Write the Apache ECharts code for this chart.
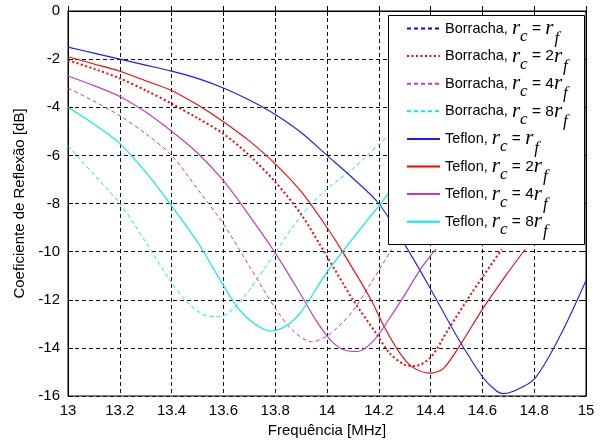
<!DOCTYPE html>
<html>
<head>
<meta charset="utf-8">
<script src="https://cdn.jsdelivr.net/npm/echarts@6/dist/echarts.min.js"></script>
<style>html,body{margin:0;padding:0;background:#fff}#c{width:606px;height:443px}</style>
</head>
<body>
<div id="c"></div>
<script>
// Frequency axis ticks (MHz) and dB axis ticks
const xTicks = [13, 13.2, 13.4, 13.6, 13.8, 14, 14.2, 14.4, 14.6, 14.8, 15];
const yTicks = [0, -2, -4, -6, -8, -10, -12, -14, -16];

// Series: [frequency MHz, reflection dB]
const borrachaRf = []; // not visible in the plotted range
const borracha2Rf = [[13.0,-2.05],[13.1,-2.4],[13.2,-2.8],[13.3,-3.3],[13.4,-3.85],[13.5,-4.45],[13.6,-5.1],[13.7,-6.0],[13.8,-7.1],[13.9,-8.45],[14.0,-10.2],[14.1,-12.0],[14.19,-13.4],[14.24,-14.2],[14.3,-14.7],[14.34,-14.75],[14.4,-14.4],[14.47,-13.2],[14.56,-11.7],[14.675,-9.9]];
const borracha4Rf = [[13.0,-3.2],[13.1,-3.75],[13.2,-4.35],[13.3,-5.1],[13.4,-6.0],[13.5,-7.4],[13.6,-8.85],[13.7,-10.6],[13.8,-12.35],[13.87,-13.3],[13.94,-13.75],[14.0,-13.5],[14.05,-13.05],[14.1,-12.45],[14.17,-11.3],[14.25,-9.9]];
const borracha8Rf = [[13.0,-5.6],[13.1,-6.8],[13.2,-8.0],[13.3,-9.6],[13.4,-11.3],[13.46,-12.1],[13.52,-12.6],[13.57,-12.7],[13.62,-12.55],[13.7,-11.6],[13.8,-10.05],[13.9,-8.5],[14.0,-7.4],[14.1,-6.55],[14.2,-5.55],[14.3,-4.6]];
const teflonRf = [[13.0,-1.5],[13.1,-1.75],[13.2,-2.0],[13.3,-2.25],[13.4,-2.5],[13.5,-2.8],[13.6,-3.2],[13.7,-3.7],[13.8,-4.3],[13.9,-5.05],[14.0,-6.0],[14.1,-6.95],[14.2,-8.0],[14.3,-9.7],[14.4,-11.55],[14.5,-13.5],[14.6,-15.2],[14.65,-15.75],[14.68,-15.9],[14.72,-15.8],[14.8,-15.3],[14.9,-13.5],[15.0,-11.2]];
const teflon2Rf = [[13.0,-1.9],[13.1,-2.2],[13.2,-2.5],[13.3,-2.9],[13.4,-3.3],[13.5,-3.9],[13.6,-4.6],[13.7,-5.4],[13.8,-6.35],[13.9,-7.5],[14.0,-9.0],[14.06,-10.0],[14.17,-12.0],[14.22,-13.1],[14.28,-14.2],[14.33,-14.8],[14.4,-15.05],[14.45,-14.85],[14.51,-13.95],[14.6,-12.4],[14.69,-11.0],[14.765,-9.9]];
const teflon4Rf = [[13.0,-2.7],[13.1,-3.1],[13.2,-3.55],[13.3,-4.2],[13.4,-5.0],[13.5,-5.9],[13.6,-7.05],[13.7,-8.5],[13.8,-10.05],[13.9,-11.8],[13.96,-12.9],[14.02,-13.75],[14.07,-14.1],[14.12,-14.15],[14.18,-13.7],[14.24,-12.8],[14.3,-11.8],[14.36,-10.75],[14.42,-9.9]];
const teflon8Rf = [[13.0,-4.0],[13.1,-4.7],[13.2,-5.5],[13.3,-6.7],[13.4,-8.1],[13.5,-9.6],[13.6,-11.4],[13.66,-12.4],[13.72,-13.0],[13.78,-13.3],[13.84,-13.1],[13.9,-12.5],[14.0,-10.85],[14.1,-9.45],[14.2,-8.1],[14.25,-7.4],[14.3,-6.7]];

const names = ['B1','B2','B4','B8','T1','T2','T4','T8'];
const legendText = {
  B1: '{n|Borracha, }{r|r}{s|c}{e| = }{r|r}{f|f}',
  B2: '{n|Borracha, }{r|r}{s|c}{e| = 2}{r|r}{f|f}',
  B4: '{n|Borracha, }{r|r}{s|c}{e| = 4}{r|r}{f|f}',
  B8: '{n|Borracha, }{r|r}{s|c}{e| = 8}{r|r}{f|f}',
  T1: '{n|Teflon, }{r|r}{s|c}{e| = }{r|r}{f|f}',
  T2: '{n|Teflon, }{r|r}{s|c}{e| = 2}{r|r}{f|f}',
  T4: '{n|Teflon, }{r|r}{s|c}{e| = 4}{r|r}{f|f}',
  T8: '{n|Teflon, }{r|r}{s|c}{e| = 8}{r|r}{f|f}'
};

const FONT = 'Liberation Sans, Arial, sans-serif';
const SERIF = 'Liberation Serif, Times New Roman, serif';

function ser(name, data, color, type, width) {
  return { name, type: 'line', data, symbol: 'none', smooth: 0.3, z: 2,
    lineStyle: { color, type, width }, itemStyle: { color } };
}

const chart = echarts.init(document.getElementById('c'), null, { renderer: 'canvas' });
const axisCommon = {
  type: 'value', min: 13, max: 15, interval: 0.2
};
chart.setOption({
  animation: false,
  backgroundColor: '#fff',
  grid: { left: 68, right: 20, top: 11, bottom: 47, show: true, borderColor: '#000', borderWidth: 1, backgroundColor: '#fff' },
  xAxis: [
    Object.assign({}, axisCommon, {
      position: 'bottom',
      name: 'Frequência [MHz]', nameLocation: 'middle', nameGap: 27,
      nameTextStyle: { fontFamily: FONT, fontSize: 15, color: '#000' },
      axisLine: { show: true, lineStyle: { color: '#000' } },
      axisTick: { show: true, inside: true, length: 5, lineStyle: { color: '#000' } },
      axisLabel: { fontFamily: FONT, fontSize: 15, color: '#000', margin: 7,
        formatter: v => { const t = xTicks.find(k => Math.abs(k - v) < 1e-6); return t === undefined ? '' : String(t); } },
      splitLine: { show: true, lineStyle: { color: '#111', type: [4, 3], width: 1 } }
    }),
    Object.assign({}, axisCommon, {
      position: 'top',
      axisLine: { show: true, lineStyle: { color: '#000' } },
      axisTick: { show: true, inside: true, length: 5, lineStyle: { color: '#000' } },
      axisLabel: { show: false }, splitLine: { show: false }
    })
  ],
  yAxis: [
    {
      type: 'value', min: -16, max: 0, interval: 2, position: 'left',
      name: 'Coeficiente de Reflexão [dB]', nameLocation: 'middle', nameGap: 32,
      nameTextStyle: { fontFamily: FONT, fontSize: 15, color: '#000' },
      axisLine: { show: true, lineStyle: { color: '#000' } },
      axisTick: { show: true, inside: true, length: 5, lineStyle: { color: '#000' } },
      axisLabel: { fontFamily: FONT, fontSize: 15, color: '#000', margin: 8,
        formatter: v => { const t = yTicks.find(k => Math.abs(k - v) < 1e-6); return t === undefined ? '' : String(t); } },
      splitLine: { show: true, lineStyle: { color: '#111', type: [4, 3], width: 1 } }
    },
    {
      type: 'value', min: -16, max: 0, interval: 2, position: 'right',
      axisLine: { show: true, lineStyle: { color: '#000' } },
      axisTick: { show: true, inside: true, length: 5, lineStyle: { color: '#000' } },
      axisLabel: { show: false }, splitLine: { show: false }
    }
  ],
  graphic: [{
    type: 'rect', z: 3, silent: true,
    shape: { x: 388.5, y: 15.5, width: 196, height: 229 },
    style: { fill: '#fff', stroke: '#000', lineWidth: 1 }
  }],
  legend: {
    orient: 'vertical', left: 406, top: 10, padding: 0, itemGap: -9.4,
    itemWidth: 33, itemHeight: 12, z: 5, selectedMode: false,
    data: names,
    itemStyle: { opacity: 0 },
    formatter: n => legendText[n],
    textStyle: {
      color: '#000', fontFamily: FONT, fontSize: 14.5, lineHeight: 20,
      rich: {
        n: { fontFamily: FONT, fontSize: 14.5, lineHeight: 20, color: '#000' },
        r: { fontFamily: SERIF, fontStyle: 'italic', fontSize: 21, lineHeight: 20, color: '#000' },
        s: { fontFamily: SERIF, fontStyle: 'italic', fontSize: 17, lineHeight: 20, color: '#000', padding: [16, 0, 0, 0] },
        f: { fontFamily: SERIF, fontStyle: 'italic', fontSize: 17, lineHeight: 20, color: '#000', padding: [20, 0, 0, 1] },
        e: { fontFamily: FONT, fontSize: 15.5, lineHeight: 20, color: '#000' }
      }
    }
  },
  series: [
    ser('B1', borrachaRf, '#0000ff', [4, 3], 1),
    ser('B2', borracha2Rf, '#ff0000', [2, 2.5], 2),
    ser('B4', borracha4Rf, '#cc33cc', [4, 3], 1),
    ser('B8', borracha8Rf, '#00eeee', [4, 3], 1),
    ser('T1', teflonRf, '#1a1aff', 'solid', 1.1),
    ser('T2', teflon2Rf, '#ff0000', 'solid', 1.1),
    ser('T4', teflon4Rf, '#c23bc2', 'solid', 1.2),
    ser('T8', teflon8Rf, '#00eeee', 'solid', 1.2)
  ]
});
</script>
</body>
</html>
